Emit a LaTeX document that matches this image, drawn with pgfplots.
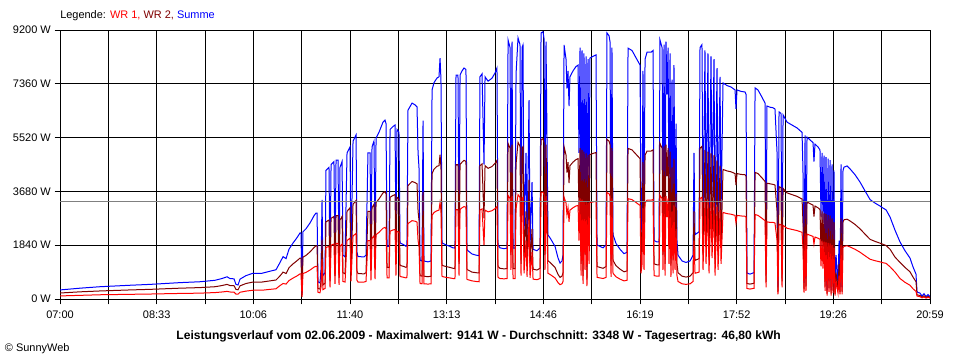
\documentclass[border=0pt]{standalone}
\usepackage{fontspec}
\setmainfont{Liberation Sans}
\usepackage{pgfplots}
\usepackage{pgfplotstable}
\pgfplotsset{compat=1.18}
\definecolor{wrone}{RGB}{255,0,0}
\definecolor{wrtwo}{RGB}{128,0,0}
\definecolor{summe}{RGB}{0,0,255}
\definecolor{avgc}{RGB}{128,128,128}

% t = minutes after 07:00
\pgfplotstableread{
t wr1 wr2 sum
0.0 105 205 310
19.3 125 245 370
38.6 145 275 420
67.5 160 310 470
86.8 170 330 500
115.7 190 370 560
135.0 200 390 590
149.5 220 420 640
156.2 240 460 700
161.1 260 500 760
163.9 240 460 700
167.8 235 455 690
169.7 170 330 500
171.7 165 315 480
173.6 230 450 680
179.4 270 530 800
186.1 300 580 880
194.8 300 580 880
202.5 330 620 950
208.3 350 650 1000
212.2 460 790 1250
215.1 530 920 1450
218.0 510 870 1380
220.8 630 1070 1700
224.7 715 1200 1915
228.6 790 1310 2100
231.5 860 1400 2260
232.4 860 1400 2260
233.4 70 130 200
234.3 870 1430 2300
237.2 910 1490 2400
241.1 990 1610 2600
245.0 1090 1760 2850
246.9 1120 1820 2940
247.9 1120 1820 2940
248.8 230 360 590
250.7 210 340 550
251.7 400 600 1000
252.7 1360 2030 3390
253.6 320 480 800
255.6 360 540 900
256.5 1760 2640 4400
259.4 1800 2700 4500
260.4 400 600 1000
261.4 1840 2760 4600
264.2 1880 2820 4700
265.2 520 780 1300
266.2 1900 2850 4750
268.1 1900 2850 4750
269.1 480 720 1200
270.0 1800 2700 4500
272.0 1880 2820 4700
272.9 600 900 1500
274.9 580 860 1440
276.8 2000 3000 5000
279.7 2080 3120 5200
280.6 600 900 1500
282.6 2160 3240 5400
285.5 2240 3370 5610
286.4 640 960 1600
287.4 580 870 1450
293.2 580 860 1440
295.1 600 900 1500
297.0 2000 3000 5000
299.0 2000 3000 5000
299.9 640 960 1600
300.9 2080 3120 5200
302.8 2160 3240 5400
303.8 680 1020 1700
304.8 2200 3300 5500
307.6 2280 3420 5700
311.5 2420 3630 6050
313.4 2450 3670 6120
314.4 2400 3600 6000
315.4 720 1080 1800
317.3 720 1080 1800
318.3 2320 3480 5800
321.1 2360 3540 5900
323.1 2380 3570 5950
324.0 800 1200 2000
325.0 2320 3480 5800
326.9 2280 3420 5700
327.9 770 1150 1920
331.8 740 1110 1850
333.7 720 1080 1800
334.6 740 1110 1850
335.6 2580 3880 6460
339.5 2680 4020 6700
342.4 2660 3980 6640
344.3 2630 3940 6570
345.3 2000 3000 5000
346.2 1800 2700 4500
347.2 530 800 1330
349.1 520 780 1300
350.1 2440 3660 6100
351.0 520 780 1300
354.9 510 760 1270
357.8 520 780 1300
358.8 2860 4290 7150
360.7 2960 4440 7400
363.6 3020 4540 7560
365.5 3040 4560 7600
366.5 3300 4940 8240
367.4 3000 4500 7500
368.4 770 1150 1920
372.3 740 1110 1850
376.1 720 1080 1800
379.0 700 1050 1750
380.9 700 1040 1740
381.9 3060 4600 7660
383.8 3060 4600 7660
384.8 800 1200 2000
385.8 3060 4600 7660
387.7 3120 4680 7800
389.6 3160 4740 7900
391.5 3140 4710 7850
392.5 670 1010 1680
397.3 620 920 1540
401.2 600 900 1500
404.1 590 890 1480
405.0 3040 4560 7600
407.0 3080 4620 7700
408.9 1840 2760 4600
409.9 3040 4560 7600
412.8 2980 4470 7450
416.6 3020 4530 7550
419.5 3090 4640 7730
421.4 3160 4740 7900
422.4 740 1110 1850
424.3 700 1050 1750
428.2 690 1030 1720
431.1 700 1040 1740
432.1 3540 5320 8860
434.0 3440 5160 8600
434.9 1000 1500 2500
435.9 3520 5280 8800
436.9 700 1040 1740
438.8 700 1040 1740
439.8 3080 4620 7700
441.7 3570 5360 8930
443.6 3480 5220 8700
444.6 800 1200 2000
445.6 3440 5160 8600
446.5 3480 5210 8690
447.5 880 1320 2200
449.4 2000 3000 5000
450.4 760 1140 1900
452.3 2720 4080 6800
453.3 720 1080 1800
455.2 1600 2400 4000
456.2 680 1020 1700
460.0 660 990 1650
462.9 700 1050 1750
463.9 3640 5460 9100
465.8 3660 5480 9140
466.8 3560 5340 8900
467.7 1000 1500 2500
468.7 3520 5280 8800
470.6 880 1310 2190
472.6 840 1250 2090
477.4 720 1080 1800
480.3 560 840 1400
482.2 490 740 1230
484.1 520 780 1300
485.1 600 900 1500
486.1 3480 5210 8690
488.0 3280 4920 8200
488.9 2880 4320 7200
489.9 3120 4680 7800
490.9 2640 3960 6600
491.8 3040 4560 7600
494.7 3120 4680 7800
497.6 3180 4770 7950
499.6 3200 4800 8000
500.5 2000 3000 5000
501.5 3440 5160 8600
502.5 800 1200 2000
503.4 3400 5100 8500
504.4 520 780 1300
505.3 3360 5040 8400
506.3 1000 1500 2500
507.3 3320 4980 8300
508.2 440 660 1100
509.2 3280 4920 8200
510.2 1200 1800 3000
511.1 3300 4940 8240
514.0 3320 4980 8300
516.9 3340 5010 8350
517.9 740 1110 1850
520.8 720 1080 1800
523.7 700 1050 1750
526.6 740 1110 1850
527.5 3640 5460 9100
529.5 3600 5400 9000
530.4 3520 5280 8800
531.4 760 1140 1900
532.3 3440 5160 8600
533.3 880 1320 2200
536.2 760 1140 1900
540.1 680 1020 1700
543.9 620 930 1550
546.8 640 960 1600
547.8 3430 5150 8580
551.6 3400 5100 8500
555.5 3300 4950 8250
559.4 3200 4800 8000
560.3 880 1320 2200
561.3 1180 1760 2940
562.2 3120 4680 7800
563.2 1000 1500 2500
564.2 3280 4920 8200
566.1 3380 5060 8440
570.0 3380 5060 8440
571.9 3400 5100 8500
572.9 800 1200 2000
575.7 780 1170 1950
577.7 780 1170 1950
578.6 3540 5320 8860
580.6 3440 5160 8600
581.5 1000 1500 2500
582.5 3480 5220 8700
583.5 800 1200 2000
584.4 3520 5280 8800
585.4 2800 4200 7000
586.4 3440 5160 8600
587.3 1200 1800 3000
588.3 3360 5040 8400
589.2 760 1140 1900
590.2 3000 4500 7500
591.2 880 1320 2200
592.1 3200 4800 8000
593.1 1000 1500 2500
594.1 2400 3600 6000
595.0 800 1200 2000
596.0 600 900 1500
599.9 520 780 1300
603.7 500 750 1250
607.6 520 780 1300
610.5 600 900 1500
611.4 2000 3000 5000
612.4 880 1320 2200
616.3 920 1380 2300
617.2 3440 5160 8600
619.1 3480 5220 8700
620.1 1000 1500 2500
622.0 3400 5100 8500
623.0 1200 1800 3000
624.9 3360 5040 8400
625.9 880 1320 2200
627.8 3320 4980 8300
628.8 1400 2100 3500
630.7 3280 4920 8200
631.7 800 1200 2000
633.6 3160 4740 7900
634.6 1000 1500 2500
636.5 3040 4560 7600
637.5 1200 1800 3000
639.4 2960 4430 7390
643.3 2920 4380 7300
647.1 2900 4350 7250
651.0 2860 4290 7150
651.9 2600 3900 6500
652.9 2860 4290 7150
656.8 2840 4260 7100
660.6 2830 4250 7080
661.6 2800 4200 7000
662.5 360 530 890
665.4 340 510 850
668.3 360 530 890
669.3 360 540 900
670.3 2890 4330 7220
673.1 2860 4290 7150
677.0 2760 4140 6900
679.9 2680 4020 6700
680.9 400 590 990
681.8 2640 3960 6600
684.7 2620 3940 6560
687.6 2620 3920 6540
689.5 2600 3900 6500
691.5 2000 3000 5000
692.4 160 240 400
693.4 2560 3840 6400
695.3 2540 3810 6350
696.3 400 600 1000
697.3 2520 3780 6300
701.1 2420 3630 6050
705.9 2380 3570 5950
710.8 2340 3510 5850
715.6 2280 3420 5700
716.5 1760 2640 4400
717.5 220 330 550
718.5 2240 3360 5600
719.4 280 420 700
720.4 2220 3320 5540
723.3 2180 3260 5440
726.2 2140 3210 5350
727.1 1880 2820 4700
728.1 2120 3180 5300
731.0 2080 3120 5200
732.9 2040 3060 5100
733.9 1120 1680 2800
734.9 2000 3000 5000
735.8 1040 1560 2600
736.8 1960 2940 4900
737.8 280 420 700
738.7 1940 2910 4850
739.7 120 180 300
740.7 1920 2880 4800
741.6 240 360 600
742.6 1900 2850 4750
743.6 120 180 300
744.5 1840 2760 4600
745.5 200 300 500
746.4 1760 2640 4400
747.4 120 180 300
748.4 600 900 1500
750.3 200 300 500
751.3 800 1200 2000
752.2 160 240 400
753.2 1840 2760 4600
754.2 160 240 400
755.1 1760 2640 4400
756.1 1800 2710 4510
759.0 1820 2730 4550
761.9 1780 2670 4450
766.7 1700 2550 4250
771.5 1600 2400 4000
776.3 1480 2220 3700
781.2 1360 2040 3400
786.0 1310 1970 3280
790.8 1270 1910 3180
793.7 1240 1870 3110
796.6 1220 1830 3050
800.5 1100 1700 2800
805.3 920 1430 2350
810.1 700 1250 1950
814.9 570 1080 1650
819.7 470 930 1400
822.6 350 750 1100
825.5 260 590 850
826.5 100 140 240
829.4 80 120 200
831.3 40 60 100
833.2 70 110 180
835.2 30 50 80
837.1 60 90 150
839.0 30 50 80
}\datatab

\begin{document}
\fontsize{8.25}{10}\selectfont
\begin{tikzpicture}
\useasboundingbox (0,0) rectangle (720bp,270bp);
\begin{axis}[
  at={(45bp,45.75bp)}, anchor=south west,
  scale only axis, width=652.5bp, height=201.75bp,
  xmin=0, xmax=839, ymin=0, ymax=9200,
  xtick={0,46.611,93.222,139.833,186.444,233.056,279.667,326.278,372.889,419.5,466.111,512.722,559.333,605.944,652.556,699.167,745.778,792.389,839},
  xticklabels={07:00,,08:33,,10:06,,11:40,,13:13,,14:46,,16:19,,17:52,,19:26,,20:59},
  ytick={0,1840,3680,5520,7360,9200},
  yticklabels={0 W,1840 W,3680 W,5520 W,7360 W,9200 W},
  grid=major, major grid style={black, line width=0.75bp},
  axis line style={black, line width=0.75bp},
  tick align=outside, tick pos=left, major tick length=4bp,
  tick style={black, line width=0.75bp},
  ticklabel style={font=\fontsize{8.25}{10}\selectfont},
  xticklabel style={yshift=-2bp},
]
\addplot[summe, line width=0.75bp] table[x=t,y=sum]{\datatab};
\addplot[wrtwo, line width=0.75bp] table[x=t,y=wr2]{\datatab};
\addplot[wrone, line width=0.75bp] table[x=t,y=wr1]{\datatab};
\addplot[avgc, line width=0.75bp] coordinates {(0,3348) (839,3348)};
\end{axis}
\node[anchor=west, inner sep=0] at (45bp,258bp) {Legende: \textcolor{wrone}{WR 1,} \textcolor{wrtwo}{WR 2,} \textcolor{summe}{Summe}};
\node[anchor=center, inner sep=0, font=\bfseries\fontsize{9.1}{11}\selectfont] at (359bp,17.5bp) {Leistungsverlauf vom 02.06.2009 - Maximalwert: 9141 W - Durchschnitt: 3348 W - Tagesertrag: 46,80 kWh};
\node[anchor=west, inner sep=0] at (3.5bp,8.25bp) {\textcopyright{} SunnyWeb};
\end{tikzpicture}
\end{document}
